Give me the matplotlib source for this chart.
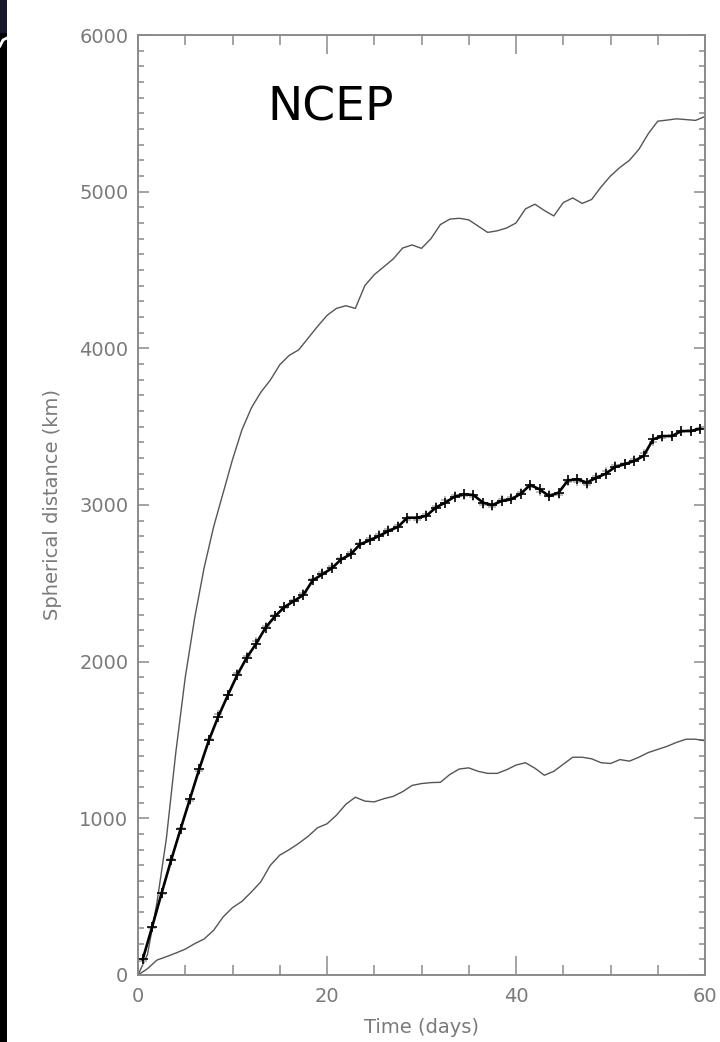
import numpy as np
import matplotlib
matplotlib.use('Agg')
import matplotlib.pyplot as plt
from matplotlib.ticker import MultipleLocator
from matplotlib.patches import Rectangle
import matplotlib.transforms as mtransforms

# days for the outer envelope curves
env_days = list(range(0, 61))
upper = [0, 130, 460, 870, 1420, 1900, 2280, 2600, 2860, 3075,
         3290, 3480, 3620, 3720, 3797, 3895, 3955, 3990, 4065, 4140,
         4210, 4255, 4272, 4255, 4400, 4470, 4520, 4570, 4640, 4660,
         4638, 4700, 4790, 4825, 4830, 4820, 4780, 4740, 4750, 4768,
         4800, 4890, 4920, 4880, 4845, 4930, 4960, 4925, 4950, 5030,
         5100, 5155, 5200, 5270, 5370, 5450, 5457, 5465, 5460, 5455, 5480]
lower = [0, 40, 95, 117, 140, 165, 200, 230, 285, 370,
         430, 470, 530, 595, 700, 765, 800, 840, 885, 940,
         965, 1020, 1090, 1135, 1110, 1105, 1125, 1140, 1170, 1210,
         1222, 1228, 1230, 1280, 1315, 1322, 1300, 1287, 1287, 1310,
         1340, 1355, 1320, 1275, 1300, 1345, 1390, 1390, 1380, 1355,
         1350, 1375, 1365, 1390, 1420, 1440, 1460, 1485, 1505, 1505, 1495]

# mean curve, sampled at half days
mean_days = [d + 0.5 for d in range(60)]
mean_vals = [100, 308, 523, 732, 930, 1125, 1318, 1498, 1650, 1785,
             1915, 2025, 2115, 2217, 2290, 2349, 2387, 2426, 2520, 2557,
             2596, 2653, 2685, 2749, 2774, 2802, 2834, 2860, 2919, 2919,
             2930, 2983, 3015, 3053, 3068, 3064, 3015, 3000, 3026, 3036,
             3072, 3128, 3100, 3057, 3079, 3157, 3164, 3143, 3174, 3200,
             3243, 3260, 3281, 3313, 3419, 3440, 3440, 3472, 3472, 3487]
# second (grey) mean estimate
grey_vals = [90, 300, 515, 740, 940, 1110, 1305, 1505, 1665, 1790,
             1930, 2035, 2130, 2230, 2300, 2340, 2395, 2440, 2530, 2570,
             2610, 2660, 2700, 2760, 2790, 2815, 2845, 2870, 2905, 2905,
             2945, 2995, 3030, 3065, 3060, 3050, 3000, 2990, 3040, 3050,
             3085, 3115, 3085, 3070, 3065, 3145, 3150, 3130, 3185, 3215,
             3255, 3270, 3295, 3330, 3400, 3430, 3450, 3465, 3480, 3490]

W, H = 720, 1042
fig = plt.figure(figsize=(W / 100, H / 100), dpi=100)
fig.patch.set_facecolor('white')

# strip of the slide background on the left edge
fig.patches.append(Rectangle((0, 0), 7 / W, 1, transform=fig.transFigure,
                             facecolor='black', edgecolor='none'))
fig.patches.append(Rectangle((0, 1 - 33 / H), 7 / W, 33 / H, transform=fig.transFigure,
                             facecolor='#16162c', edgecolor='none'))
fig.lines.append(plt.Line2D([0, 3 / W, 7 / W], [1 - 46 / H, 1 - 40 / H, 1 - 38 / H],
                            transform=fig.transFigure, color='white', lw=2))

ax = fig.add_axes([138 / W, 1 - 975 / H, 567 / W, 940 / H])

axis_col = '#8a8a8a'
text_col = '#7a7a7a'

ax.plot(env_days, upper, color='#555555', lw=1.0)
ax.plot(env_days, lower, color='#555555', lw=1.0)
ax.plot(mean_days, grey_vals, ls='none', marker='+', ms=6, mew=1.3, color='#b5b5b5')
ax.plot(mean_days, mean_vals, color='black', lw=1.9, marker='+', ms=7.5, mew=1.2)

ax.set_xlim(0, 60)
ax.set_ylim(0, 6000)
ax.xaxis.set_major_locator(MultipleLocator(20))
ax.xaxis.set_minor_locator(MultipleLocator(5))
ax.yaxis.set_major_locator(MultipleLocator(1000))
ax.yaxis.set_minor_locator(MultipleLocator(100))

for s in ax.spines.values():
    s.set_color(axis_col)
    s.set_linewidth(1.4)

ax.tick_params(which='both', direction='in', top=True, right=True,
               color=axis_col, width=1.1, labelcolor=text_col, labelsize=14)
ax.tick_params(axis='x', which='major', length=13.5, pad=9)
ax.tick_params(axis='x', which='minor', length=7)
ax.tick_params(axis='y', which='major', length=8, pad=7)
ax.tick_params(axis='y', which='minor', length=4)

ax.set_xlabel('Time (days)', color=text_col, fontsize=14)
ax.xaxis.set_label_coords(0.5, -0.046)
ax.set_ylabel('Spherical distance (km)', color=text_col, fontsize=14)
ax.yaxis.set_label_coords(-0.134, 0.5)

# pull the end labels of the y axis inside the frame
fig.canvas.draw()
ylabels = ax.get_yticklabels()
ylabels[0].set_transform(ylabels[0].get_transform() +
                         mtransforms.ScaledTranslation(0, 6 / 100, fig.dpi_scale_trans))
ylabels[-1].set_transform(ylabels[-1].get_transform() +
                          mtransforms.ScaledTranslation(0, -8 / 100, fig.dpi_scale_trans))

fig.text(331 / W, 1 - 108 / H, 'NCEP', fontsize=34, color='black',
         ha='center', va='center')

plt.savefig('out.png', dpi=100)
